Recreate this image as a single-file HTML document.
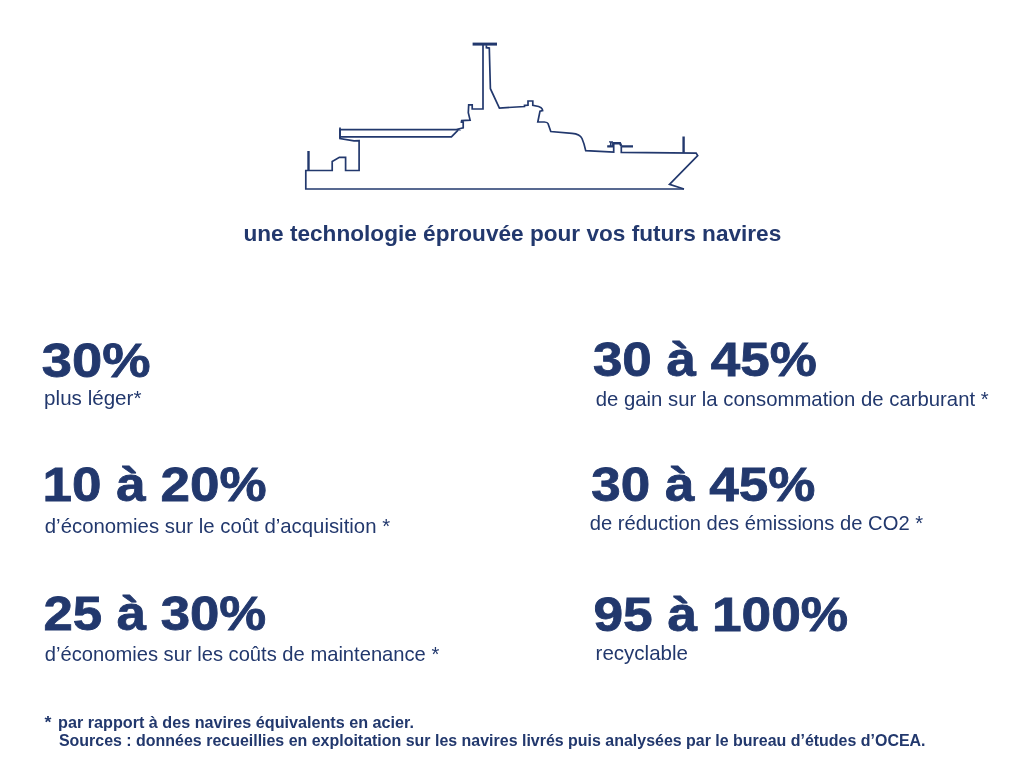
<!DOCTYPE html>
<html lang="fr">
<head>
<meta charset="utf-8">
<title>OCEA</title>
<style>
html,body{margin:0;padding:0;background:#fff;}
body{width:1024px;height:759px;position:relative;overflow:hidden;font-family:"Liberation Sans", sans-serif;color:#22386d;}
.t{position:absolute;white-space:nowrap;line-height:1;margin:0;padding:0;transform-origin:0 0;}
svg{position:absolute;left:0;top:0;}
</style>
</head>
<body>
<svg width="1024" height="759" viewBox="0 0 1024 759" fill="none" stroke="#22386d" stroke-width="1.7" stroke-linejoin="miter">
<path d="M684 189 L305.8 189 L305.8 170.5 L332.2 170.5 L332.2 161.5 L339.4 157.3 L345.6 157.3 L345.6 170.5 L359.1 170.5 L359.1 140.6 L354 140.8 L340 138.6 L340 129.7 L458.1 129.7 L457.4 129.3 L463.2 127.8 L463.2 122.3 L461.4 122 L461.7 120.6 L470.1 120.1 L468.3 112.6 L468.7 104.9 L472.2 104.9 L472.2 109 L483 109 L483 44.1"/>
<path d="M340 136.9 L451.4 136.9 L458.1 130.1"/>
<path d="M340 127.4 L340 138.6"/>
<path d="M308.5 151 L308.5 170.5" stroke-width="2.4"/>
<path d="M472.6 44.1 L497 44.1" stroke-width="3"/>
<path d="M486.4 45.2 L486.4 47.7 L489.3 48.1 L490.4 88.7 L499.4 108 L524.5 106.5 L524.5 105.4 L528 105.1 L528 101 L532.8 101 L532.8 105.4 L538.6 106.5 Q541.5 107.5 542.2 109 L542.6 110.7 L540 111.2 L537.8 122 L544.3 122 Q547.5 122.3 548 123.5 L550.8 131.5 L572 133.4 Q580 134 582 138.5 Q584 143 585.7 150.6 L613.7 152 L613.7 142.5 M621.3 146.2 L621.3 152.3 L696.1 153.1 L697.7 155.6 L669.5 184.3 L684 189"/>
<path d="M607.2 146.4 L613.9 146.4 M621.3 146.4 L633 146.4" stroke-width="2.2"/>
<path d="M610.4 146.4 L610.8 142 L612.3 142 L612.3 146.4 M609 141.9 L612.6 141.9" stroke-width="1.3"/>
<path d="M613 143.3 L620 143.3 L621.3 146" stroke-width="2.4"/>
<path d="M683.6 136.5 L683.6 152.8" stroke-width="2.4"/>
</svg>
<div class="t" id="t0" style="left:243.00px;top:223.00px;font-size:21.60px;font-weight:700;transform:translateX(0.42px) scaleX(1.0473);">une technologie éprouvée pour vos futurs navires</div>
<div class="t" id="t1" style="left:41.00px;top:336.00px;font-size:48.50px;font-weight:700;transform:translateX(0.76px) scaleX(1.1204);-webkit-text-stroke:0.80px #22386d;">30%</div>
<div class="t" id="t2" style="left:44.00px;top:389.00px;font-size:19.80px;font-weight:400;transform:translateX(0.12px) scaleX(1.0412);">plus léger*</div>
<div class="t" id="t3" style="left:42.00px;top:460.00px;font-size:48.50px;font-weight:700;transform:translateX(0.62px) scaleX(1.0929);-webkit-text-stroke:0.80px #22386d;">10 à 20%</div>
<div class="t" id="t4" style="left:44.00px;top:517.00px;font-size:19.80px;font-weight:400;transform:translateX(0.78px) scaleX(1.0296);">d’économies sur le coût d’acquisition *</div>
<div class="t" id="t5" style="left:43.00px;top:589.00px;font-size:48.50px;font-weight:700;transform:translateX(0.38px) scaleX(1.0875);-webkit-text-stroke:0.80px #22386d;">25 à 30%</div>
<div class="t" id="t6" style="left:44.00px;top:645.00px;font-size:19.80px;font-weight:400;transform:translateX(0.80px) scaleX(1.0192);">d’économies sur les coûts de maintenance *</div>
<div class="t" id="t7" style="left:592.00px;top:335.00px;font-size:48.50px;font-weight:700;transform:translateX(0.88px) scaleX(1.0929);-webkit-text-stroke:0.80px #22386d;">30 à 45%</div>
<div class="t" id="t8" style="left:595.00px;top:390.00px;font-size:19.80px;font-weight:400;transform:translateX(0.72px) scaleX(1.0268);">de gain sur la consommation de carburant *</div>
<div class="t" id="t9" style="left:591.00px;top:460.00px;font-size:48.50px;font-weight:700;transform:translateX(0.36px) scaleX(1.0927);-webkit-text-stroke:0.80px #22386d;">30 à 45%</div>
<div class="t" id="t10" style="left:589.00px;top:514.00px;font-size:19.80px;font-weight:400;transform:translateX(0.76px) scaleX(1.0207);">de réduction des émissions de CO2 *</div>
<div class="t" id="t11" style="left:593.00px;top:590.00px;font-size:48.50px;font-weight:700;transform:translateX(0.44px) scaleX(1.0985);-webkit-text-stroke:0.80px #22386d;">95 à 100%</div>
<div class="t" id="t12" style="left:595.00px;top:644.00px;font-size:19.80px;font-weight:400;transform:translateX(0.54px) scaleX(1.0382);">recyclable</div>
<div class="t" id="t13" style="left:44.00px;top:714.00px;font-size:16.40px;font-weight:700;transform:translateX(0.52px) scaleX(1.0851);">*</div>
<div class="t" id="t14" style="left:58.00px;top:714.00px;font-size:16.40px;font-weight:700;transform:translateX(0.12px) scaleX(0.9862);">par rapport à des navires équivalents en acier.</div>
<div class="t" id="t15" style="left:58.00px;top:732.00px;font-size:16.40px;font-weight:700;transform:translateX(0.95px) scaleX(0.9737);">Sources : données recueillies en exploitation sur les navires livrés puis analysées par le bureau d’études d’OCEA.</div>
</body>
</html>
